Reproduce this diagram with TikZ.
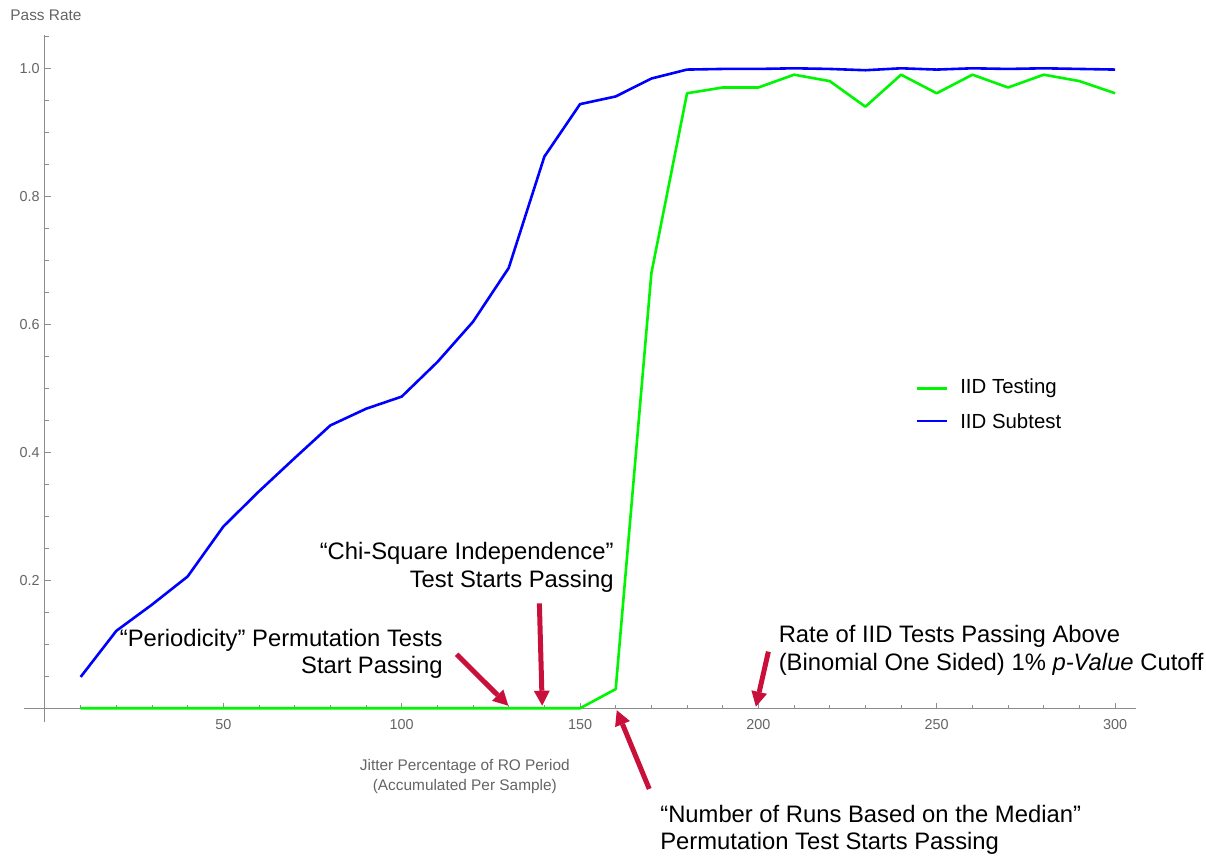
\documentclass[tikz,border=0pt]{standalone}
\usepackage{fontspec}
\setmainfont{Liberation Sans}
\usetikzlibrary{arrows.meta}

\definecolor{notered}{RGB}{200,16,58}
\definecolor{axisgray}{RGB}{140,140,140}
\definecolor{labelgray}{RGB}{100,100,100}
\definecolor{testgreen}{RGB}{0,245,0}
\definecolor{subblue}{RGB}{0,0,255}

\begin{document}
\begin{tikzpicture}[
  x=1.7835pt, y=320pt,
  axis/.style={draw=axisgray, line width=0.5pt},
  ticklab/.style={text=labelgray, inner sep=0pt, font=\fontsize{7.2}{8}\selectfont},
  axlab/.style={text=labelgray, inner sep=0pt, font=\fontsize{7.7}{10}\selectfont},
  note/.style={inner sep=0pt, font=\fontsize{11.9}{13.8}\selectfont},
  legend/.style={inner sep=0pt, font=\fontsize{10.2}{12}\selectfont},
  pointer/.style={draw=notered, line width=2.5pt, -{Triangle[length=7.5pt, width=8pt, line width=0pt]}},
  iidtest/.style={draw=testgreen, line width=1.3pt, line join=round},
  iidsub/.style={draw=subblue, line width=1.3pt, line join=round}
]
\useasboundingbox (-12.616,-0.23547) rectangle (325.49,1.10672);

% Axes and ticks
\draw[axis] (-6,0) -- (306,0);
\draw[axis] (0,-0.022) -- (0,1.052);
\foreach \x in {10,20,...,300} \draw[axis] (\x,0) -- ++(0,1.5pt);
\foreach \x in {50,100,...,300} {
  \draw[axis] (\x,0) -- ++(0,2.5pt);
  \node[ticklab] (xt\x) at (\x,-0.025) {\x};
}
\foreach \k in {1,...,21} \draw[axis] (0,\k*0.05) -- ++(1.8pt,0);
\foreach \y/\lab in {0.2/0.2, 0.4/0.4, 0.6/0.6, 0.8/0.8, 1/1.0} {
  \draw[axis] (0,\y) -- ++(3pt,0);
  \node[ticklab, anchor=east] (yt\lab) at (-1.4,\y) {\lab};
}
\node[axlab, anchor=west] (ylab) at (-9.8,1.083) {Pass Rate};
\node[axlab, align=center] (xlab) at (117.7,-0.107) {Jitter Percentage of RO Period\\(Accumulated Per Sample)};

% IID testing (green)
\draw[iidtest] plot coordinates {
  (10,0) (20,0) (30,0) (40,0) (50,0) (60,0) (70,0) (80,0) (90,0) (100,0)
  (110,0) (120,0) (130,0) (140,0) (150,0) (160,0.03) (170,0.68) (180,0.961)
  (190,0.970) (200,0.970) (210,0.990) (220,0.980) (230,0.940) (240,0.990)
  (250,0.961) (260,0.990) (270,0.970) (280,0.990) (290,0.980) (300,0.961)};

% IID subtest (blue)
\draw[iidsub] plot coordinates {
  (10,0.049) (20,0.121) (30,0.162) (40,0.206) (50,0.284) (60,0.339)
  (70,0.391) (80,0.442) (90,0.468) (100,0.487) (110,0.541) (120,0.604)
  (130,0.688) (140,0.862) (150,0.944) (160,0.956) (170,0.984) (180,0.998)
  (190,0.999) (200,0.999) (210,1.000) (220,0.999) (230,0.997) (240,1.000)
  (250,0.998) (260,1.000) (270,0.999) (280,1.000) (290,0.999) (300,0.998)};

% Legend
\coordinate (lgA) at (244.5,0.4998);
\coordinate (lgB) at (252.9,0.4998);
\coordinate (lgC) at (244.5,0.4489);
\coordinate (lgD) at (252.9,0.4489);
\draw[iidtest] (lgA) -- (lgB);
\draw[iidsub] (lgC) -- (lgD);
\node[legend, anchor=west] (lgtest) at (256.5,0.4998) {IID Testing};
\node[legend, anchor=west] (lgsub) at (256.5,0.4489) {IID Subtest};

% Annotations
\node[note, anchor=east, align=right] (perlab) at (111.6,0.085) {“Periodicity” Permutation Tests\\Start Passing};
\node[note, anchor=east, align=right] (chilab) at (159.5,0.220) {“Chi-Square Independence”\\Test Starts Passing};
\node[note, anchor=west, align=left] (runslab) at (172.4,-0.190) {“Number of Runs Based on the Median”\\Permutation Test Starts Passing};
\node[note, anchor=west, align=left] (ratelab) at (205.6,0.0903) {Rate of IID Tests Passing Above\\(Binomial One Sided) 1\% \textit{p-Value} Cutoff};

\coordinate (perTail) at (115.4,0.0843);
\coordinate (perTip) at (129.9,0.004);
\coordinate (chiTail) at (138.6,0.164);
\coordinate (chiTip) at (139.4,0.004);
\coordinate (runsTail) at (169.4,-0.126);
\coordinate (runsTip) at (160.3,-0.003);
\coordinate (rateTail) at (202.8,0.0885);
\coordinate (rateTip) at (199.3,0.0025);

\draw[pointer] (perTail) -- (perTip);
\draw[pointer] (chiTail) -- (chiTip);
\draw[pointer] (runsTail) -- (runsTip);
\draw[pointer] (rateTail) -- (rateTip);

\end{tikzpicture}
\end{document}
